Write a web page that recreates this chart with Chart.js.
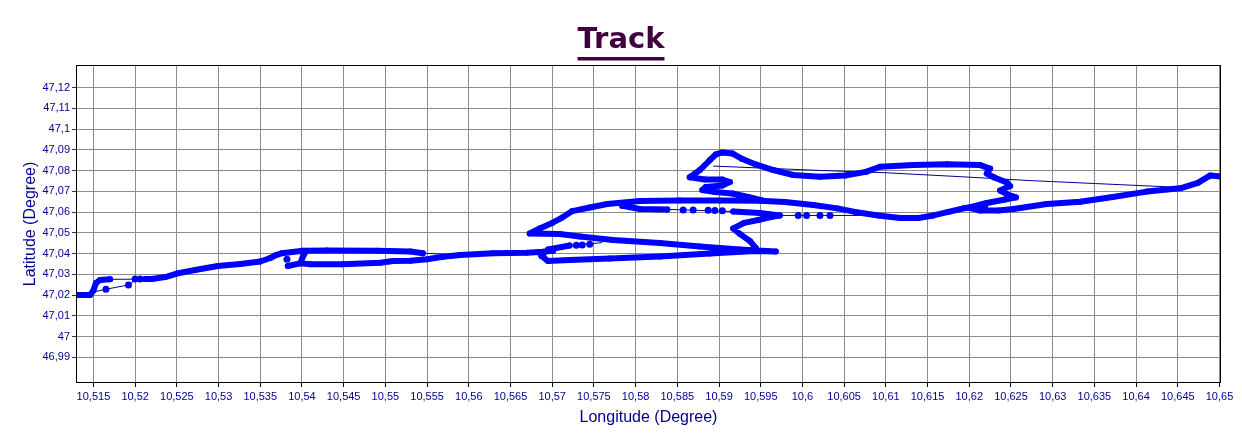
<!DOCTYPE html>
<html>
<head>
<meta charset="utf-8">
<script src="https://cdn.jsdelivr.net/npm/chart.js@4.4.1/dist/chart.umd.min.js"></script>
<style>
  html, body { margin: 0; padding: 0; background: #fff; }
  canvas { display: block; }
</style>
</head>
<body>
<canvas id="track" width="1242" height="442"></canvas>
<script>
// axis ranges and tick values (degrees)
const lonMin = 10.51291, lonMax = 10.65018;
const latMin = 46.97761, latMax = 47.13094;
const lonTicks = [10.515, 10.52, 10.525, 10.53, 10.535, 10.54, 10.545, 10.55, 10.555, 10.56,
  10.565, 10.57, 10.575, 10.58, 10.585, 10.59, 10.595, 10.6, 10.605, 10.61, 10.615, 10.62,
  10.625, 10.63, 10.635, 10.64, 10.645, 10.65];
const latTicks = [46.99, 47, 47.01, 47.02, 47.03, 47.04, 47.05, 47.06, 47.07, 47.08, 47.09,
  47.1, 47.11, 47.12];

// densely logged parts of the track (null = gap)
const denseLon = [
  10.5129, 10.5146, 10.5150, 10.5153, 10.5158, 10.5170, null,
  10.5212, 10.5220, 10.5236, 10.5250, 10.5272, 10.5299, 10.5326, 10.5350, 10.5362, 10.5369,
  10.5376, 10.5401, 10.5430, 10.5490, 10.5530, 10.5545, null,
  10.5383, 10.5398, 10.5410, 10.5449, 10.5494, 10.5509, 10.5530, 10.5550, 10.5569, 10.5590,
  10.5629, 10.5670, 10.5689, 10.5701, null,
  10.5398, 10.5401, 10.5405, null,
  10.5721, 10.5695, 10.5687, 10.5695, 10.5721, 10.5769, 10.5829, 10.5889, 10.5943, 10.5968,
  10.5925, 10.5877, 10.5829, 10.5773, 10.5733, 10.5709, 10.5673,
  10.5685, 10.5700, 10.5712, 10.5724, 10.5745, 10.5766, 10.5805, 10.5853, 10.5901, 10.5949,
  10.5979, 10.6013, 10.6042, 10.6063, 10.6091, 10.6117, 10.6139, 10.6157, 10.6175, 10.6195,
  10.6219, null,
  10.5784, 10.5805, 10.5838, null,
  10.5917, 10.5949, 10.5973, 10.5963, 10.5947, 10.5930, 10.5917, 10.5925, 10.5937, 10.5944, null,
  10.5865, 10.5883, 10.5904, 10.5913, 10.5904, 10.5884, 10.5880, 10.5895, 10.5916, 10.5935,
  10.5952, null,
  10.5865, 10.5877, 10.5889, 10.5896, 10.5904, 10.5916, 10.5928, 10.5944, 10.5965, 10.5989,
  10.6021, 10.6051, 10.6076, 10.6093, 10.6133, 10.6173, 10.6213, 10.6225, 10.6221, 10.6230,
  10.6245, 10.6249, 10.6237, 10.6247, 10.6256, 10.6243, 10.6221, 10.6199, 10.6213, 10.6235,
  10.6253, 10.6293, 10.6333, 10.6372, 10.6413, 10.6453, 10.6474, 10.6489, 10.6502
];
const denseLat = [
  47.0200, 47.0200, 47.0222, 47.0258, 47.0273, 47.0276, null,
  47.0277, 47.0278, 47.0287, 47.0304, 47.0321, 47.0340, 47.0350, 47.0362, 47.0379, 47.0393,
  47.0402, 47.0414, 47.0415, 47.0414, 47.0410, 47.0402, null,
  47.0340, 47.0353, 47.0349, 47.0349, 47.0356, 47.0364, 47.0366, 47.0373, 47.0385, 47.0393,
  47.0402, 47.0404, 47.0409, 47.0414, null,
  47.0353, 47.0385, 47.0412, null,
  47.0439, 47.0420, 47.0389, 47.0364, 47.0369, 47.0376, 47.0386, 47.0401, 47.0413, 47.0410,
  47.0420, 47.0434, 47.0451, 47.0466, 47.0483, 47.0495, 47.0497,
  47.0521, 47.0548, 47.0574, 47.0605, 47.0622, 47.0639, 47.0654, 47.0656, 47.0656, 47.0655,
  47.0649, 47.0634, 47.0618, 47.0601, 47.0584, 47.0572, 47.0572, 47.0584, 47.0601, 47.0620,
  47.0630, null,
  47.0630, 47.0615, 47.0613, null,
  47.0603, 47.0596, 47.0584, 47.0577, 47.0562, 47.0548, 47.0521, 47.0495, 47.0461, 47.0427, null,
  47.0768, 47.0757, 47.0757, 47.0745, 47.0728, 47.0721, 47.0707, 47.0697, 47.0690, 47.0673,
  47.0656, null,
  47.0768, 47.0803, 47.0851, 47.0878, 47.0888, 47.0883, 47.0856, 47.0830, 47.0803, 47.0779,
  47.0771, 47.0777, 47.0794, 47.0819, 47.0827, 47.0831, 47.0827, 47.0810, 47.0786, 47.0767,
  47.0743, 47.0726, 47.0704, 47.0683, 47.0671, 47.0661, 47.0644, 47.0622, 47.0608, 47.0608,
  47.0615, 47.0639, 47.0650, 47.0673, 47.0699, 47.0715, 47.0741, 47.0777, 47.0772
];

// straight connecting lines between sparse fixes
const thinLon = [
  10.5170, 10.5212, null,
  10.5150, 10.5165, 10.5192, 10.5200, 10.5212, null,
  10.5545, 10.5590, null,
  10.5721, 10.5760, null,
  10.5838, 10.5917, null,
  10.5893, 10.6021, 10.6099, 10.6189, 10.6273, 10.6449, null,
  10.5973, 10.6091
];
const thinLat = [
  47.0276, 47.0277, null,
  47.0215, 47.0228, 47.0249, 47.0273, 47.0277, null,
  47.0402, 47.0393, null,
  47.0439, 47.0453, null,
  47.0613, 47.0603, null,
  47.0822, 47.0801, 47.0790, 47.0771, 47.0752, 47.0720, null,
  47.0584, 47.0584
];

// single isolated fixes
const dotLon = [10.5200, 10.5206, 10.5165, 10.5192, 10.5382, 10.5729, 10.5736, 10.5745,
  10.5857, 10.5869, 10.5887, 10.5895, 10.5904, 10.5995, 10.6005, 10.6021, 10.6033];
const dotLat = [47.0277, 47.0277, 47.0228, 47.0249, 47.0373, 47.0440, 47.0442, 47.0445,
  47.0610, 47.0610, 47.0609, 47.0608, 47.0607, 47.0584, 47.0584, 47.0584, 47.0584];

const toPoints = (xs, ys) => xs.map((x, i) => ({ x: x, y: ys[i] }));
const fmt = v => String(parseFloat(Number(v).toFixed(4))).replace('.', ',');

const axisBlue = '#00008c';
const tickFont = { family: 'Liberation Sans', size: 11 };
const titleFont = { family: 'Liberation Sans', size: 16 };

// frame round the plot and underline under the title
const framePlugin = {
  id: 'frame',
  afterDraw(chart) {
    const ctx = chart.ctx;
    const a = chart.chartArea;
    const t = chart.titleBlock;
    ctx.save();
    ctx.strokeStyle = '#000';
    ctx.lineWidth = 1;
    ctx.strokeRect(a.left + 0.5, a.top + 0.5, a.right - a.left - 1, a.bottom - a.top - 1);
    ctx.font = 'bold 29px "DejaVu Sans"';
    const w = ctx.measureText('Track').width;
    const cx = (t.left + t.right) / 2;
    ctx.fillStyle = '#400040';
    ctx.fillRect(cx - w / 2, 57, w, 3.5);
    ctx.restore();
  }
};

new Chart(document.getElementById('track'), {
  type: 'scatter',
  data: {
    datasets: [{
      label: 'Track',
      data: toPoints(denseLon, denseLat),
      showLine: true,
      spanGaps: false,
      borderColor: '#0000ff',
      borderWidth: 6,
      borderCapStyle: 'round',
      borderJoinStyle: 'round',
      pointRadius: 3,
      pointBorderWidth: 0,
      pointBackgroundColor: '#0000ff'
    }, {
      label: 'Fixes',
      data: toPoints(dotLon, dotLat),
      showLine: false,
      pointRadius: 3.5,
      pointBorderWidth: 0,
      pointBackgroundColor: '#0000ff'
    }, {
      label: 'Links',
      data: toPoints(thinLon, thinLat),
      showLine: true,
      spanGaps: false,
      borderColor: '#000090',
      borderWidth: 1,
      pointRadius: 0
    }]
  },
  options: {
    responsive: false,
    animation: false,
    devicePixelRatio: 1,
    layout: { padding: 0 },
    scales: {
      x: {
        type: 'linear',
        position: 'bottom',
        min: lonMin,
        max: lonMax,
        afterBuildTicks: s => { s.ticks = lonTicks.map(v => ({ value: v })); },
        afterFit: s => { s.height = 59; },
        ticks: { callback: v => fmt(v), font: tickFont, color: axisBlue, padding: 3, maxRotation: 0, autoSkip: false },
        grid: { color: '#8c8c8c', lineWidth: 1, tickLength: 4, tickColor: '#000' },
        border: { display: false },
        title: { display: true, text: 'Longitude (Degree)', color: axisBlue, font: titleFont, padding: { top: 0, bottom: 15 } }
      },
      y: {
        type: 'linear',
        position: 'left',
        min: latMin,
        max: latMax,
        afterBuildTicks: s => { s.ticks = latTicks.map(v => ({ value: v })); },
        afterFit: s => { s.width = 76; },
        ticks: { callback: v => fmt(v), font: tickFont, color: axisBlue, padding: 2, autoSkip: false },
        grid: { color: '#8c8c8c', lineWidth: 1, tickLength: 4, tickColor: '#333' },
        border: { display: false },
        title: { display: true, text: 'Latitude (Degree)', color: axisBlue, font: titleFont, padding: { top: 21, bottom: 0 } }
      },
      y2: {
        type: 'linear',
        position: 'right',
        afterFit: s => { s.width = 21; },
        ticks: { display: false },
        grid: { display: false },
        border: { display: false }
      }
    },
    plugins: {
      legend: { display: false },
      tooltip: { enabled: false },
      title: {
        display: true,
        text: 'Track',
        color: '#400040',
        font: { family: 'DejaVu Sans', size: 29, weight: 'bold', lineHeight: 1.2 },
        padding: { top: 22.6, bottom: 7.6 }
      }
    }
  },
  plugins: [framePlugin]
});
</script>
</body>
</html>
